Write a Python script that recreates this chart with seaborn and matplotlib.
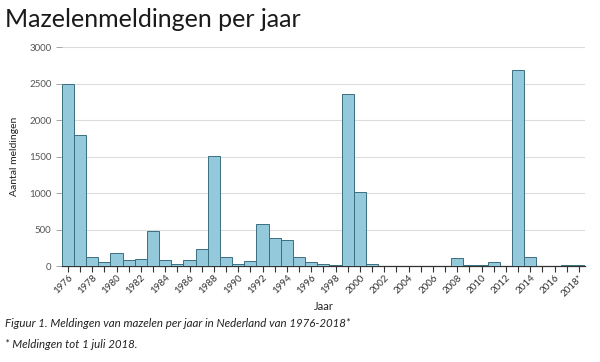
import numpy as np
import pandas as pd
import matplotlib
matplotlib.use("Agg")
import matplotlib.pyplot as plt
import seaborn as sns

years = list(range(1976, 2019))
meldingen = [2500, 1800, 130, 50, 175, 80, 90, 480, 80, 25, 80, 230, 1510, 120, 25, 65,
             570, 380, 355, 120, 50, 25, 8, 2360, 1010, 25, 3, 3, 5, 2, 2, 3, 105, 20,
             20, 55, 5, 2680, 130, 5, 5, 20, 20]
year_labels = [str(y) if y < 2018 else "2018*" for y in years]

df = pd.DataFrame({"jaar": year_labels, "meldingen": meldingen})

sns.set_style("white")
plt.rcParams['font.family'] = ['Lato', 'DejaVu Sans']

fig = plt.figure(figsize=(6, 3.62), dpi=100)
ax = fig.add_axes([0.103, 0.265, 0.872, 0.605])

sns.barplot(data=df, x="jaar", y="meldingen", order=year_labels, color="#93c9db",
            width=1.0, edgecolor="#3a6f80", linewidth=0.7, saturation=1, ax=ax, zorder=3)

ax.set_xlim(-0.5, len(years) - 0.5)
ax.set_ylim(0, 3000)
ax.set_yticks([0, 500, 1000, 1500, 2000, 2500, 3000])
ax.yaxis.grid(True, color="#dcdcdc", linewidth=0.8, zorder=0)

ax.set_xticks(range(len(years)))
ax.set_xticklabels([lab if i % 2 == 0 else "" for i, lab in enumerate(year_labels)],
                   rotation=45, ha="right", rotation_mode="anchor", fontsize=7, color="#333333")
ax.tick_params(axis="x", length=4, width=0.8, color="#333333", pad=1, bottom=True)
ax.tick_params(axis="y", length=4, width=0.6, color="#999999", labelsize=7, labelcolor="#555555", left=True)

for s in ["top", "right", "left"]:
    ax.spines[s].set_visible(False)
ax.spines["bottom"].set_color("#333333")
ax.spines["bottom"].set_linewidth(0.9)

ax.set_xlabel("Jaar", fontsize=8, color="#222222", labelpad=2)
ax.set_ylabel("Aantal meldingen", fontsize=7.5, color="#222222", labelpad=7)

fig.text(0.008, 0.925, "Mazelenmeldingen per jaar", fontsize=18, color="#1a1a1a")
fig.text(0.008, 0.098, "Figuur 1. Meldingen van mazelen per jaar in Nederland van 1976-2018*",
         fontsize=8.3, style="italic", color="#222222")
fig.text(0.008, 0.04, "* Meldingen tot 1 juli 2018.", fontsize=8.3, style="italic", color="#222222")

fig.savefig("out.png", dpi=100, facecolor="white")
